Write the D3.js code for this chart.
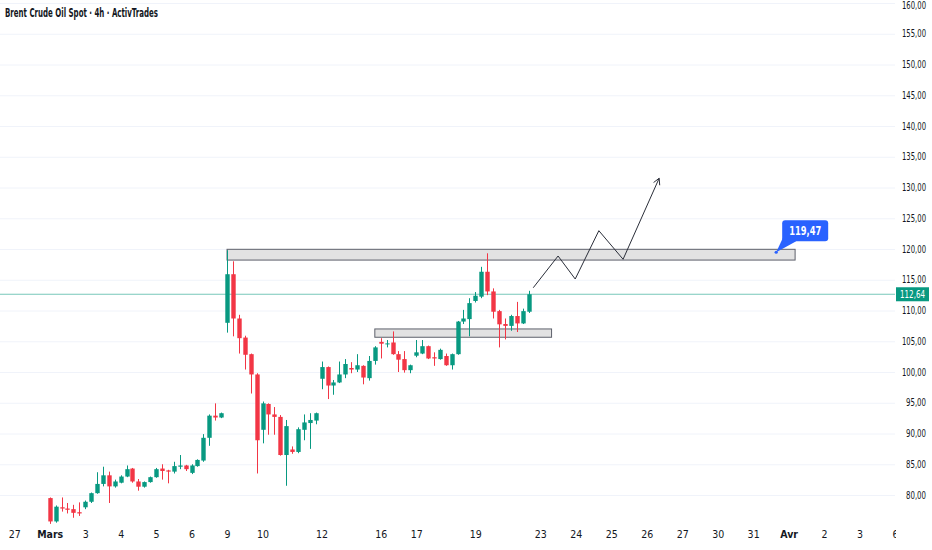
<!DOCTYPE html>
<html>
<head>
<meta charset="utf-8">
<script src="https://cdn.jsdelivr.net/npm/d3@7"></script>
<style>
  body { margin: 0; background: #fff; }
  text { font-family: "Liberation Sans Narrow", "DejaVu Sans Condensed", sans-serif; }
</style>
</head>
<body>
<script>
// 4h candles, bar index 0 = Mars 1st bar
let opens  = [79.5,75.7,78.0,77.8,77.7,77.2,78.0,78.9,80.3,81.8,83.2,81.4,82.0,83.0,84.3,82.2,81.35,82.1,82.9,84.3,84.0,83.8,84.6,84.8,83.6,84.7,85.6,89.3,92.9,92.6,
              108.0,115.9,108.7,105.6,102.9,99.6,90.6,94.8,93.1,92.7,86.5,87.4,87.0,90.6,91.7,92.1,
              98.9,100.8,97.8,98.3,99.6,100.65,100.4,101.0,99.0,101.8,104.9,104.5,104.8,102.9,102.1,100.3,102.65,103.0,104.2,102.4,102.1,102.6,101.1,
              102.9,108.2,108.6,111.55,112.25,116.3,113.1,109.9,107.8,107.5,109.1,107.9,109.8];
let highs  = [79.6,78.3,79.6,78.7,78.4,78.8,79.1,80.4,83.7,84.6,83.8,82.5,83.2,84.8,84.4,82.6,82.2,83.0,84.4,85.0,84.1,85.4,86.5,84.9,85.0,85.8,89.9,93.1,94.9,93.4,
              119.8,118.0,109.3,105.9,103.0,99.8,95.2,94.9,94.3,93.0,92.2,87.9,91.0,93.1,93.3,93.4,
              101.7,100.9,98.7,101.7,102.1,101.6,102.9,101.1,102.6,104.2,105.5,105.2,106.6,103.4,103.4,101.2,105.2,105.2,104.3,103.2,103.8,103.0,103.0,
              108.3,110.1,112.0,113.0,117.1,119.3,113.6,110.1,108.7,109.3,111.4,110.3,113.2];
let lows   = [75.3,75.5,77.3,77.0,76.3,76.6,77.7,78.7,80.2,81.4,78.7,81.2,81.9,82.9,82.0,80.7,81.2,82.0,82.8,82.5,81.9,83.5,84.2,83.9,83.4,84.6,85.4,88.0,92.1,92.5,
              106.4,105.8,103.0,100.4,96.5,83.5,88.4,89.8,89.8,86.4,81.5,86.7,86.8,88.9,87.5,91.5,
              97.2,95.6,96.3,98.2,99.0,99.8,100.0,98.0,98.6,101.2,102.2,104.0,102.8,100.0,99.9,99.8,102.4,102.9,102.1,101.0,102.0,101.0,100.4,
              102.8,107.8,105.8,111.3,112.0,112.5,108.7,104.0,105.3,106.7,106.5,107.8,109.6];
let closes = [75.7,78.1,77.8,77.6,77.1,77.0,78.9,80.3,81.8,83.2,81.4,82.2,83.0,84.2,82.2,81.35,82.1,82.9,84.2,83.9,83.8,84.7,84.8,84.2,84.8,85.7,89.3,92.9,92.6,93.3,
              115.9,108.7,105.5,102.8,99.6,88.9,94.9,93.1,92.7,86.5,91.2,87.0,90.7,91.8,92.2,93.3,
              100.8,97.8,98.3,99.6,101.3,100.4,101.1,99.1,101.8,104.0,104.6,104.65,102.9,102.0,100.3,101.1,103.2,104.2,102.2,102.2,103.6,101.1,102.9,
              108.2,108.7,111.2,112.4,116.3,113.1,109.8,107.75,107.5,109.1,107.9,109.9,112.64];

// day labels on the time axis, bar index where each day starts
let tickLabels = ["27","Mars","3","4","5","6","9","10","12","16","17","19","23","24","25","26","27","30","31","Avr","2","3","6"];
let tickBars   = [-6,0,6,12,18,24,30,36,46,56,62,72,83,89,95,101,107,113,119,125,131,137,143];
let boldTicks  = ["Mars","Avr"];

let priceTicks = [80,85,90,95,100,105,110,115,120,125,130,135,140,145,150,155,160];
let lastPrice = 112.64;

// drawings: zones [barStart, barEnd, priceLow, priceHigh]
let zones = [[30, 126.1, 118.2, 119.95], [55, 84.9, 105.65, 107.0]];
// projected path [bar, price]
let pathBars   = [81.8, 86.0, 88.9, 92.9, 97.0, 103.1];
let pathPrices = [113.7, 118.86, 115.12, 122.98, 118.33, 131.5];
let calloutBar = 122.9, calloutPrice = 119.47;

const W = 932, H = 550, plotRight = 895, plotBottom = 525;
const up = "#089981", down = "#f23645";

let svg = d3.select('body').append('svg')
      .attr('width', W)
      .attr('height', H);

let x = d3.scaleLinear().domain([-8.41, 143]).range([0, plotRight]);
let y = d3.scaleLinear().domain([80, 160]).range([495, 3]);

let loc = d3.formatLocale({decimal: ",", thousands: " ", grouping: [3], currency: ["", ""]});
let fmt = loc.format(".2f");

let defs = svg.append("defs");
defs.append("clipPath").attr("id", "plot")
  .append("rect").attr("x", 0).attr("y", 0).attr("width", plotRight).attr("height", plotBottom);
defs.append("clipPath").attr("id", "xclip")
  .append("rect").attr("x", 0).attr("y", -20).attr("width", plotRight + 1).attr("height", 40);

// horizontal grid
svg.append("g").selectAll("line").data(priceTicks).join("line")
  .attr("x1", 0).attr("x2", plotRight)
  .attr("y1", d => y(d) + 0.5).attr("y2", d => y(d) + 0.5)
  .attr("stroke", "#f0f3fa").attr("stroke-width", 1);

// price axis, labels right-aligned
let yAxis = d3.axisRight(y).tickValues(priceTicks).tickFormat(fmt).tickSize(0).tickPadding(0);
svg.append("g").attr("transform", `translate(926,0)`).call(yAxis)
  .call(g => g.select(".domain").remove())
  .call(g => g.selectAll("text").attr("font-size", 10).attr("fill", "#131722")
    .attr("text-anchor", "end")
    .attr("dy", d => d === 160 ? "0.5em" : "0.32em")
    .attr("textLength", d => d >= 100 ? 24 : 20).attr("lengthAdjust", "spacingAndGlyphs"));

// time axis
let xAxis = d3.axisBottom(x).tickValues(tickBars).tickFormat((d, i) => tickLabels[i]).tickSize(0).tickPadding(0);
let gx = svg.append("g").attr("transform", `translate(0,531)`).attr("clip-path", "url(#xclip)").call(xAxis);
gx.select(".domain").remove();
gx.selectAll("text").attr("font-size", 10.5).attr("fill", "#131722")
  .attr("font-weight", (d, i) => boldTicks.includes(tickLabels[i]) ? "bold" : null);

// last price line
svg.append("line")
  .attr("x1", 0).attr("x2", plotRight)
  .attr("y1", y(lastPrice)).attr("y2", y(lastPrice))
  .attr("stroke", up).attr("stroke-opacity", 0.55).attr("stroke-width", 1);

// zones
let plot = svg.append("g").attr("clip-path", "url(#plot)");
plot.selectAll("rect.zone").data(zones).join("rect")
  .attr("class", "zone")
  .attr("x", d => x(d[0])).attr("width", d => x(d[1]) - x(d[0]))
  .attr("y", d => y(d[3])).attr("height", d => y(d[2]) - y(d[3]))
  .attr("fill", "#e2e2e2").attr("stroke", "#5d606b").attr("stroke-width", 1);

// candles
let bars = d3.range(opens.length).map(i => ({i, o: opens[i], h: highs[i], l: lows[i], c: closes[i]}));
let candle = plot.append("g").selectAll("g").data(bars).join("g");
candle.append("line")
  .attr("x1", d => Math.round(x(d.i)) + 0.5).attr("x2", d => Math.round(x(d.i)) + 0.5)
  .attr("y1", d => y(d.h)).attr("y2", d => y(d.l))
  .attr("stroke", d => d.c >= d.o ? up : down).attr("stroke-width", 1);
candle.append("rect")
  .attr("x", d => Math.round(x(d.i)) - 1.7).attr("width", 4.4)
  .attr("y", d => y(Math.max(d.o, d.c)))
  .attr("height", d => Math.max(1, Math.abs(y(d.o) - y(d.c))))
  .attr("fill", d => d.c >= d.o ? up : down);

// projected path with arrow
let pts = pathBars.map((b, i) => [x(b), y(pathPrices[i])]);
plot.append("path")
  .attr("d", d3.line()(pts))
  .attr("fill", "none").attr("stroke", "#2a2e39").attr("stroke-width", 1);
let [px, py] = pts[pts.length - 1], [qx, qy] = pts[pts.length - 2];
let ang = Math.atan2(py - qy, px - qx), L = 7;
let head = [[px - L * Math.cos(ang - 0.5), py - L * Math.sin(ang - 0.5)], [px, py], [px - L * Math.cos(ang + 0.5), py - L * Math.sin(ang + 0.5)]];
plot.append("path").attr("d", d3.line()(head))
  .attr("fill", "none").attr("stroke", "#2a2e39").attr("stroke-width", 1);

// price callout
let cx = x(calloutBar), cy = y(calloutPrice);
let bx = cx + 6, by = cy - 32, bw = 46, bh = 21;
svg.append("path")
  .attr("d", `M${bx + 1},${by + bh - 4} L${cx},${cy} L${bx + 14},${by + bh} Z`)
  .attr("fill", "#2962ff");
svg.append("rect").attr("x", bx).attr("y", by).attr("width", bw).attr("height", bh).attr("rx", 3)
  .attr("fill", "#2962ff");
svg.append("text").attr("x", bx + bw / 2).attr("y", by + 14.5)
  .attr("text-anchor", "middle").attr("font-size", 12).attr("font-weight", "bold").attr("fill", "#fff")
  .attr("textLength", 32).attr("lengthAdjust", "spacingAndGlyphs")
  .text(fmt(calloutPrice));
svg.append("circle").attr("cx", cx).attr("cy", cy).attr("r", 1.6).attr("fill", "#2962ff");

// last price label
svg.append("rect").attr("x", plotRight + 1).attr("y", y(lastPrice) - 7).attr("width", 33).attr("height", 14)
  .attr("fill", up);
svg.append("text").attr("x", plotRight + 17.5).attr("y", y(lastPrice) + 3.5)
  .attr("text-anchor", "middle").attr("font-size", 10).attr("fill", "#fff")
  .attr("textLength", 25).attr("lengthAdjust", "spacingAndGlyphs")
  .text(fmt(lastPrice));

// title
svg.append("text").attr("x", 5).attr("y", 17)
  .attr("font-size", 11.5).attr("font-weight", "bold").attr("fill", "#131722")
  .attr("textLength", 153).attr("lengthAdjust", "spacingAndGlyphs")
  .text("Brent Crude Oil Spot · 4h · ActivTrades");
</script>
</body>
</html>
